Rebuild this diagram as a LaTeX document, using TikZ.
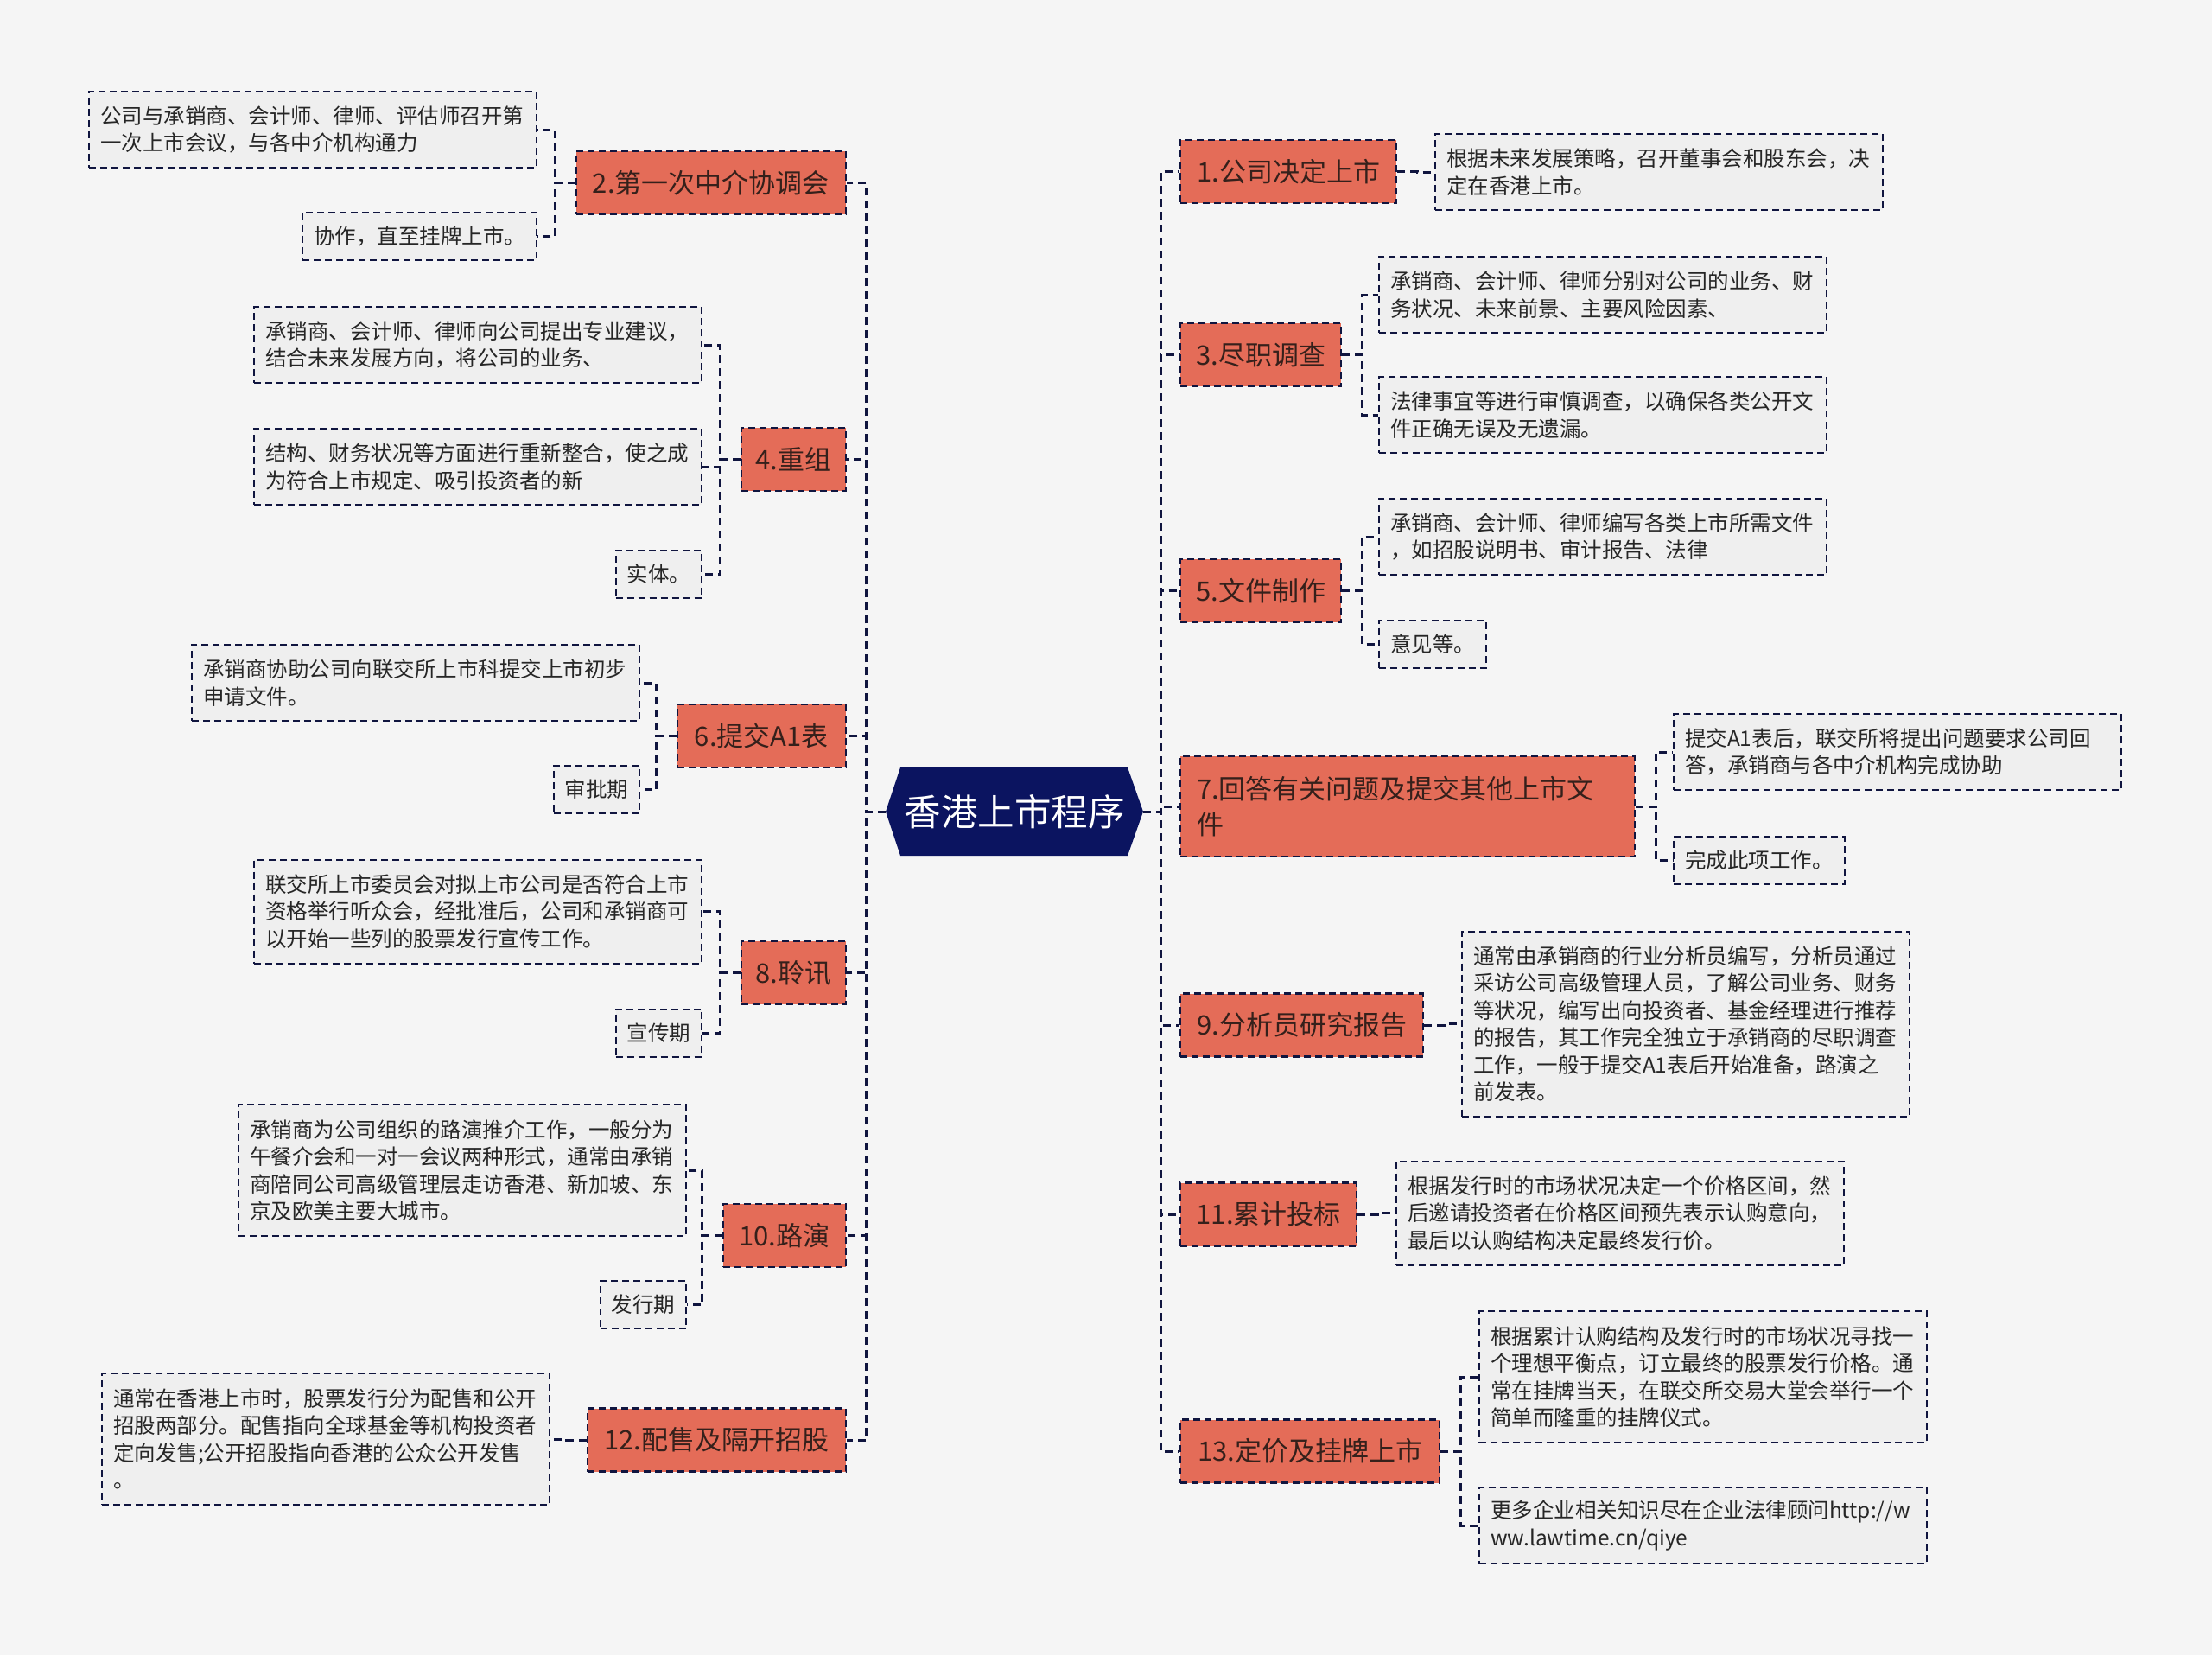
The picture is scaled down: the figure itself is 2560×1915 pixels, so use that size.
\documentclass[tikz,border=0pt]{standalone}
\usepackage{fontspec}
\setmainfont{Noto Sans CJK SC}
\definecolor{bg}{HTML}{F5F5F5}
\definecolor{navy}{HTML}{10153F}
\definecolor{rootfill}{HTML}{0B1460}
\definecolor{brfill}{HTML}{E46C58}
\definecolor{brtext}{HTML}{35201B}
\definecolor{leaffill}{HTML}{EFEFEF}
\definecolor{leaftext}{HTML}{262626}
\tikzset{
  conn/.style={draw=navy, line width=3pt, dash pattern=on 9pt off 6pt},
  branch/.style={fill=brfill, draw=navy, line width=2.2pt, dash pattern=on 8pt off 5pt,
    text=brtext, font=\fontsize{31}{41}\selectfont, minimum height=73pt,
    inner xsep=15pt, inner ysep=0pt},
  leaf/.style={fill=leaffill, draw=navy, line width=2pt, dash pattern=on 8pt off 5pt,
    text=leaftext, font=\fontsize{24.5}{31.5}\selectfont, inner xsep=13pt,
    inner ysep=0pt, align=left, minimum height=55pt},
  leafw/.style={leaf, text width=492pt},
  hh2/.style={minimum height=88pt},
  hh3/.style={minimum height=120pt},
  hh4/.style={minimum height=152pt},
  hh6/.style={minimum height=214pt},
}
\begin{document}
\begin{tikzpicture}[x=1pt,y=-1pt]
\useasboundingbox (0,0) rectangle (2560,1915);
\fill[bg] (0,0) rectangle (2560,1915);

% root
\fill[rootfill] (1025,939) -- (1042,888) -- (1305,888) -- (1323,939) -- (1305,990) -- (1042,990) -- cycle;
\node[text=white, font=\fontsize{42.5}{50}\selectfont, minimum width=298pt, minimum height=102pt, inner sep=0pt] (root) at (1174,939) {香港上市程序};

% left branches
\node[branch, anchor=east, minimum width=312pt] (b2) at (980,211.5) {2.第一次中介协调会};
\node[branch, anchor=east, minimum width=121pt] (b4) at (980,531.5) {4.重组};
\node[branch, anchor=east, minimum width=195pt] (b6) at (980,851.5) {6.提交A1表};
\node[branch, anchor=east, minimum width=121pt] (b8) at (980,1125.5) {8.聆讯};
\node[branch, anchor=east, minimum width=142pt] (b10) at (980,1429.5) {10.路演};
\node[branch, anchor=east, minimum width=299pt] (b12) at (980,1666) {12.配售及隔开招股};

% right branches
\node[branch, anchor=west, minimum width=250pt] (b1) at (1365,198.5) {1.公司决定上市};
\node[branch, anchor=west, minimum width=186pt] (b3) at (1365,410.5) {3.尽职调查};
\node[branch, anchor=west, minimum width=186pt] (b5) at (1365,683.5) {5.文件制作};
\node[branch, anchor=west, minimum height=116pt, inner xsep=19pt, text width=488pt, align=left] (b7) at (1365,933) {7.回答有关问题及提交其他上市文\\件};
\node[branch, anchor=west, minimum width=281pt] (b9) at (1365,1186) {9.分析员研究报告};
\node[branch, anchor=west, minimum width=204pt] (b11) at (1365,1405) {11.累计投标};
\node[branch, anchor=west, minimum width=300pt] (b13) at (1365,1679) {13.定价及挂牌上市};

% left leaves
\node[leafw, hh2, anchor=east] (l2a) at (622,150) {公司与承销商、会计师、律师、评估师召开第\\一次上市会议，与各中介机构通力};
\node[leaf, anchor=east] (l2b) at (622,273) {协作，直至挂牌上市。};
\node[leafw, hh2, anchor=east] (l4a) at (813,399) {承销商、会计师、律师向公司提出专业建议，\\结合未来发展方向，将公司的业务、};
\node[leafw, hh2, anchor=east] (l4b) at (813,540) {结构、财务状况等方面进行重新整合，使之成\\为符合上市规定、吸引投资者的新};
\node[leaf, anchor=east] (l4c) at (813,664.5) {实体。};
\node[leafw, hh2, anchor=east] (l6a) at (741,790) {承销商协助公司向联交所上市科提交上市初步\\申请文件。};
\node[leaf, anchor=east] (l6b) at (741,913.5) {审批期};
\node[leafw, hh3, anchor=east] (l8a) at (813,1054.5) {联交所上市委员会对拟上市公司是否符合上市\\资格举行听众会，经批准后，公司和承销商可\\以开始一些列的股票发行宣传工作。};
\node[leaf, anchor=east] (l8b) at (813,1195) {宣传期};
\node[leafw, hh4, anchor=east] (l10a) at (795,1354) {承销商为公司组织的路演推介工作，一般分为\\午餐介会和一对一会议两种形式，通常由承销\\商陪同公司高级管理层走访香港、新加坡、东\\京及欧美主要大城市。};
\node[leaf, anchor=east] (l10b) at (795,1509.5) {发行期};
\node[leafw, hh4, anchor=east] (l12) at (637,1665) {通常在香港上市时，股票发行分为配售和公开\\招股两部分。配售指向全球基金等机构投资者\\定向发售;公开招股指向香港的公众公开发售\\。};

% right leaves
\node[leafw, hh2, anchor=west] (l1) at (1660,199) {根据未来发展策略，召开董事会和股东会，决\\定在香港上市。};
\node[leafw, hh2, anchor=west] (l3a) at (1595,341) {承销商、会计师、律师分别对公司的业务、财\\务状况、未来前景、主要风险因素、};
\node[leafw, hh2, anchor=west] (l3b) at (1595,480) {法律事宜等进行审慎调查，以确保各类公开文\\件正确无误及无遗漏。};
\node[leafw, hh2, anchor=west] (l5a) at (1595,621) {承销商、会计师、律师编写各类上市所需文件\\，如招股说明书、审计报告、法律};
\node[leaf, anchor=west] (l5b) at (1595,745) {意见等。};
\node[leafw, hh2, anchor=west] (l7a) at (1936,870) {提交A1表后，联交所将提出问题要求公司回\\答，承销商与各中介机构完成协助};
\node[leaf, anchor=west] (l7b) at (1936,995.5) {完成此项工作。};
\node[leafw, hh6, anchor=west] (l9) at (1691,1184.5) {通常由承销商的行业分析员编写，分析员通过\\采访公司高级管理人员，了解公司业务、财务\\等状况，编写出向投资者、基金经理进行推荐\\的报告，其工作完全独立于承销商的尽职调查\\工作，一般于提交A1表后开始准备，路演之\\前发表。};
\node[leafw, hh3, anchor=west] (l11) at (1615,1403.5) {根据发行时的市场状况决定一个价格区间，然\\后邀请投资者在价格区间预先表示认购意向，\\最后以认购结构决定最终发行价。};
\node[leafw, hh4, anchor=west] (l13a) at (1711,1593) {根据累计认购结构及发行时的市场状况寻找一\\个理想平衡点，订立最终的股票发行价格。通\\常在挂牌当天，在联交所交易大堂会举行一个\\简单而隆重的挂牌仪式。};
\node[leafw, hh2, anchor=west] (l13b) at (1711,1765) {更多企业相关知识尽在企业法律顾问http://w\\ww.lawtime.cn/qiye};

% trunk connectors
\foreach \b in {b2,b4,b6,b8,b10,b12}
  \draw[conn] (root.west) -- ++(-22,0) |- (\b.east);
\foreach \b in {b1,b3,b5,b7,b9,b11,b13}
  \draw[conn] (root.east) -- ++(20,0) |- (\b.west);

% left branch to leaves
\foreach \b/\l in {b2/l2a,b2/l2b,b4/l4a,b4/l4b,b4/l4c,b6/l6a,b6/l6b,b8/l8a,b8/l8b,b10/l10a,b10/l10b,b12/l12}
  \draw[conn] (\b.west) -- ++(-23,0) |- (\l.east);
% right branch to leaves
\foreach \b/\l in {b1/l1,b3/l3a,b3/l3b,b5/l5a,b5/l5b,b7/l7a,b7/l7b,b9/l9,b11/l11,b13/l13a,b13/l13b}
  \draw[conn] (\b.east) -- ++(23,0) |- (\l.west);
\end{tikzpicture}
\end{document}
